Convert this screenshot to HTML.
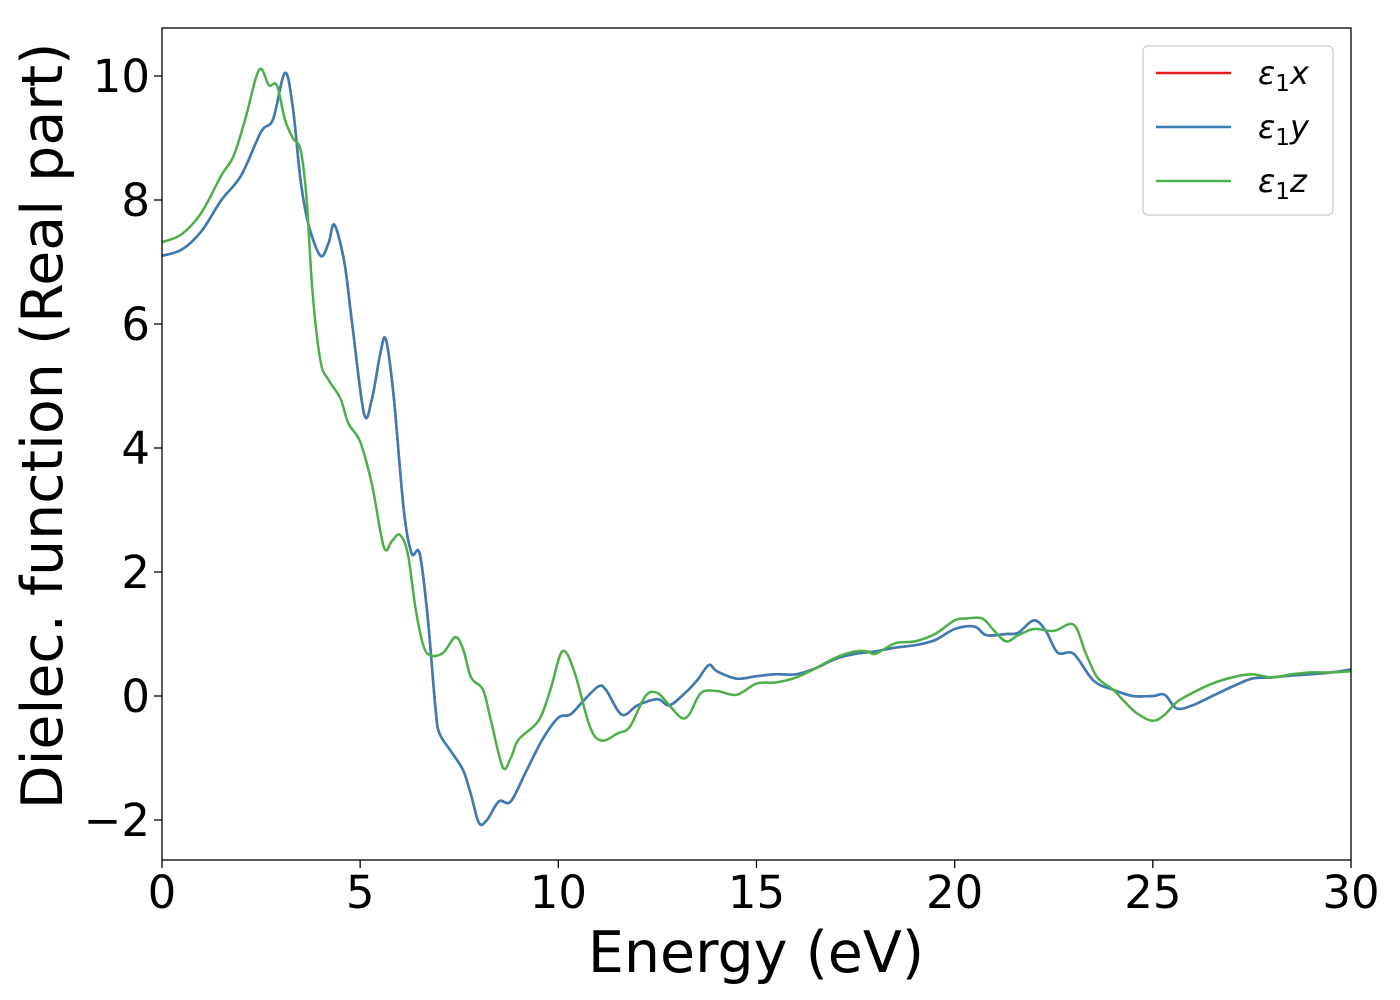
<!DOCTYPE html>
<html><head><meta charset="utf-8"><style>
html,body{margin:0;padding:0;background:#fff;}
svg{display:block;font-family:"DejaVu Sans","Liberation Sans",sans-serif;}
</style></head><body>
<svg id="chart" width="1400" height="1000" viewBox="0 0 1400 1000" xmlns="http://www.w3.org/2000/svg">
<rect x="0" y="0" width="1400" height="1000" fill="#fff"/>
<g id="series"></g>
<rect x="162" y="28" width="1189" height="832" fill="none" stroke="#000" stroke-width="1.3"/>
<g id="ticks"></g>
<text x="756" y="972" font-size="57" text-anchor="middle">Energy (eV)</text>
<text transform="translate(62,426) rotate(-90)" font-size="57" text-anchor="middle">Dielec. function (Real part)</text>
<g>
<rect x="1143" y="46" width="190" height="169" rx="5" fill="#fff" stroke="#ccc" stroke-width="1.3"/>
<line x1="1156" y1="73" x2="1231" y2="73" stroke="#e41a1c" stroke-width="2.5"/>
<text x="1258" y="84" font-size="32" font-style="italic">ε<tspan font-style="normal" font-size="23" dy="7">1</tspan><tspan dy="-7">x</tspan></text>
<line x1="1156" y1="127" x2="1231" y2="127" stroke="#377eb8" stroke-width="2.5"/>
<text x="1258" y="138" font-size="32" font-style="italic">ε<tspan font-style="normal" font-size="23" dy="7">1</tspan><tspan dy="-7">y</tspan></text>
<line x1="1156" y1="181" x2="1231" y2="181" stroke="#4daf4a" stroke-width="2.5"/>
<text x="1258" y="192" font-size="32" font-style="italic">ε<tspan font-style="normal" font-size="23" dy="7">1</tspan><tspan dy="-7">z</tspan></text>
</g>
</svg>
<script>
const xyEnergy=[0,0.5,1,1.5,2,2.5,2.8,3.1,3.3,3.5,3.7,4.0,4.2,4.35,4.6,4.8,5.1,5.3,5.5,5.65,5.85,6.1,6.3,6.5,6.7,6.9,7.0,7.3,7.6,7.8,8.0,8.2,8.5,8.8,9.2,9.6,10.0,10.3,10.6,11.0,11.2,11.6,12.0,12.5,12.8,13.2,13.5,13.8,14.0,14.5,15.0,15.5,16,16.5,17,17.5,18,18.5,19,19.5,20,20.5,20.8,21.3,21.6,22.0,22.3,22.6,23,23.5,24,24.5,25,25.3,25.6,26,26.5,27,27.5,28,28.5,29,29.5,30];
const xyValues=[7.1,7.2,7.5,8.0,8.4,9.1,9.3,10.05,9.5,8.3,7.6,7.1,7.3,7.6,7.0,6.0,4.55,4.8,5.5,5.75,4.8,3.0,2.3,2.3,1.3,-0.2,-0.6,-0.9,-1.2,-1.6,-2.05,-2.0,-1.7,-1.7,-1.2,-0.7,-0.35,-0.3,-0.1,0.15,0.1,-0.3,-0.15,-0.05,-0.15,0.05,0.25,0.5,0.4,0.28,0.32,0.35,0.35,0.45,0.6,0.68,0.72,0.78,0.82,0.9,1.08,1.12,0.98,1.0,1.02,1.22,1.05,0.7,0.68,0.25,0.1,0.0,0.0,0.02,-0.2,-0.15,0.0,0.15,0.28,0.3,0.33,0.35,0.38,0.43];
const zEnergy=[0,0.5,1,1.5,1.8,2.1,2.45,2.7,2.9,3.1,3.3,3.5,3.65,3.8,4.0,4.2,4.5,4.7,5.0,5.3,5.6,5.8,6.0,6.2,6.4,6.6,6.8,7.1,7.4,7.6,7.8,8.1,8.3,8.6,8.8,9.0,9.5,9.8,10.1,10.4,10.8,11.1,11.5,11.8,12.2,12.5,12.8,13.1,13.3,13.6,14.0,14.5,15.0,15.5,16,16.5,17,17.5,17.8,18,18.5,19,19.5,20.0,20.3,20.7,21.0,21.3,21.6,22,22.5,23.0,23.3,23.6,24.0,24.3,24.6,25.0,25.3,25.6,26,26.5,27,27.5,28,28.5,29,29.5,30];
const zValues=[7.32,7.45,7.8,8.4,8.7,9.3,10.1,9.85,9.85,9.3,9.0,8.8,8.0,6.5,5.4,5.1,4.8,4.4,4.1,3.4,2.4,2.5,2.6,2.3,1.4,0.8,0.65,0.7,0.95,0.75,0.3,0.1,-0.4,-1.15,-1.0,-0.7,-0.4,0.1,0.72,0.4,-0.5,-0.72,-0.6,-0.5,0.0,0.05,-0.15,-0.35,-0.3,0.05,0.08,0.02,0.2,0.22,0.3,0.45,0.62,0.72,0.72,0.68,0.85,0.88,1.0,1.22,1.25,1.25,1.05,0.88,0.98,1.08,1.05,1.15,0.7,0.3,0.1,-0.1,-0.28,-0.4,-0.3,-0.1,0.05,0.2,0.3,0.35,0.3,0.35,0.38,0.38,0.4];
const xTicks=[0,5,10,15,20,25,30];
const yTicks=[-2,0,2,4,6,8,10];
const yTickLabels=["\u22122","0","2","4","6","8","10"];

const NS="http://www.w3.org/2000/svg";
function xs(v){return 162+v*(1189/30);}
function ys(v){return 696-v*62;}
function smoothPath(xa,ya){
  const p=xa.map((x,i)=>[xs(x),ys(ya[i])]);
  let d="M"+p[0][0].toFixed(1)+","+p[0][1].toFixed(1);
  for(let i=0;i<p.length-1;i++){
    const p0=p[Math.max(0,i-1)],p1=p[i],p2=p[i+1],p3=p[Math.min(p.length-1,i+2)];
    const c1x=p1[0]+(p2[0]-p0[0])/6,c1y=p1[1]+(p2[1]-p0[1])/6;
    const c2x=p2[0]-(p3[0]-p1[0])/6,c2y=p2[1]-(p3[1]-p1[1])/6;
    d+=" C"+c1x.toFixed(1)+","+c1y.toFixed(1)+" "+c2x.toFixed(1)+","+c2y.toFixed(1)+" "+p2[0].toFixed(1)+","+p2[1].toFixed(1);
  }
  return d;
}
const layer=document.getElementById("series");
const clip=document.createElementNS(NS,"clipPath");clip.setAttribute("id","pc");
const cr=document.createElementNS(NS,"rect");cr.setAttribute("x",162);cr.setAttribute("y",28);cr.setAttribute("width",1189);cr.setAttribute("height",832);
clip.appendChild(cr);layer.appendChild(clip);
function addLine(xa,ya,color,name){
  const p=document.createElementNS(NS,"path");
  p.setAttribute("d",smoothPath(xa,ya));
  p.setAttribute("fill","none");p.setAttribute("stroke",color);p.setAttribute("stroke-width","2.5");
  p.setAttribute("clip-path","url(#pc)");
  
  
  layer.appendChild(p);
}
addLine(xyEnergy,xyValues,"#e41a1c","series-eps1-x");
addLine(xyEnergy,xyValues,"#377eb8","series-eps1-y");
addLine(zEnergy,zValues,"#4daf4a","series-eps1-z");

const tk=document.getElementById("ticks");
xTicks.forEach(v=>{
  const l=document.createElementNS(NS,"line");
  l.setAttribute("x1",xs(v));l.setAttribute("x2",xs(v));l.setAttribute("y1",860);l.setAttribute("y2",868);l.setAttribute("stroke","#000");l.setAttribute("stroke-width","1.3");
  
  
  tk.appendChild(l);
  const t=document.createElementNS(NS,"text");
  t.setAttribute("x",xs(v));t.setAttribute("y",908);t.setAttribute("font-size","45");t.setAttribute("text-anchor","middle");
  t.textContent=String(v);
  
  
  tk.appendChild(t);
});
yTicks.forEach((v,i)=>{
  const l=document.createElementNS(NS,"line");
  l.setAttribute("x1",154);l.setAttribute("x2",162);l.setAttribute("y1",ys(v));l.setAttribute("y2",ys(v));l.setAttribute("stroke","#000");l.setAttribute("stroke-width","1.3");
  
  
  tk.appendChild(l);
  const t=document.createElementNS(NS,"text");
  t.setAttribute("x",150);t.setAttribute("y",ys(v)+16);t.setAttribute("font-size","45");t.setAttribute("text-anchor","end");
  t.textContent=yTickLabels[i];
  
  
  tk.appendChild(t);
});
</script>
</body></html>
